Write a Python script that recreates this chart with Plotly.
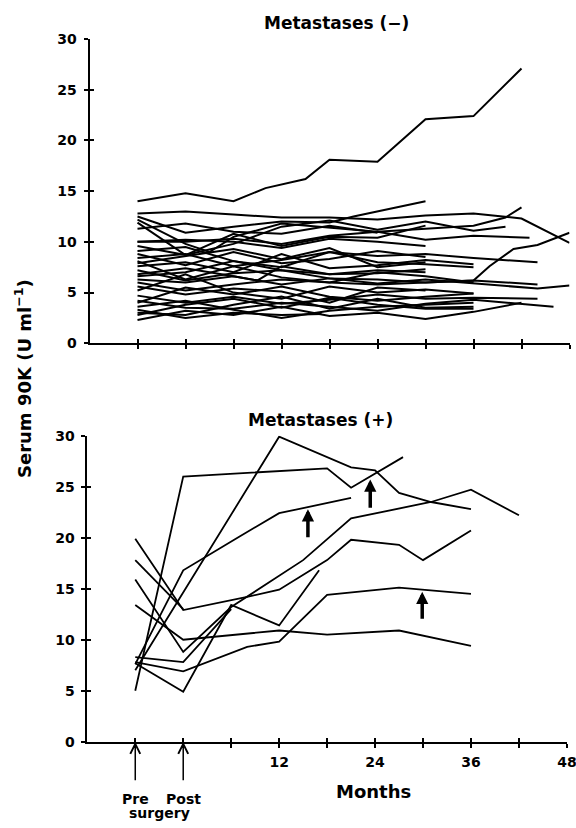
import plotly.graph_objects as go

FONT = "DejaVu Sans"

# ---------------- Metastases (-) panel: months and serum 90K values ----------------
neg01_m = [-6, 0, 6, 10, 15, 18, 24, 30, 36, 42]
neg01_v = [14.0, 14.8, 14.0, 15.3, 16.2, 18.1, 17.9, 22.1, 22.4, 27.1]
neg02_m = [-6, 0, 6, 12, 18, 24, 30, 36, 42, 48]
neg02_v = [12.8, 13.0, 12.7, 12.4, 12.4, 12.2, 12.6, 12.8, 12.3, 9.9]
neg03_m = [-6, 0, 6, 12, 18, 21, 30]
neg03_v = [12.5, 10.9, 11.5, 12.0, 11.9, 12.5, 14.0]
neg04_m = [-6, 0, 3, 6, 12, 18, 24, 36, 40, 42]
neg04_v = [12.2, 9.8, 9.0, 10.5, 11.8, 11.4, 11.0, 11.6, 12.4, 13.4]
neg05_m = [-6, 0, 6, 12, 18, 24, 30, 36, 38, 41, 44, 48]
neg05_v = [6.0, 5.2, 5.8, 6.3, 6.0, 5.8, 6.0, 6.2, 7.6, 9.3, 9.7, 10.9]
neg06_m = [-6, 0, 6, 12, 18, 24, 30, 36, 43]
neg06_v = [10.0, 10.0, 10.3, 9.8, 10.6, 11.0, 10.2, 10.6, 10.4]
neg07_m = [-6, 0, 6, 12, 18, 24, 30, 36, 40]
neg07_v = [11.9, 8.7, 9.8, 11.5, 12.1, 11.2, 12.0, 11.1, 11.5]
neg08_m = [-6, 0, 6, 12, 18, 24, 30, 36, 44]
neg08_v = [8.4, 8.8, 7.6, 8.2, 9.0, 8.6, 8.8, 8.4, 8.0]
neg09_m = [-6, 0, 6, 12, 18, 24, 30, 36]
neg09_v = [9.1, 9.5, 8.1, 7.5, 9.0, 8.0, 7.8, 7.5]
neg10_m = [-6, 0, 6, 12, 18, 24, 30, 36, 44]
neg10_v = [6.3, 6.0, 6.6, 5.8, 6.4, 6.3, 6.0, 6.2, 5.8]
neg11_m = [-6, 0, 6, 12, 18, 24, 30, 36, 44, 48]
neg11_v = [7.2, 6.2, 6.9, 7.2, 6.4, 5.9, 6.3, 5.9, 5.4, 5.7]
neg12_m = [-6, 0, 6, 12, 18, 24, 30, 36, 44]
neg12_v = [4.7, 4.0, 4.6, 3.9, 4.3, 4.8, 4.4, 4.5, 4.4]
neg13_m = [-6, 0, 6, 12, 18, 24, 30, 36, 46]
neg13_v = [4.2, 3.5, 3.4, 4.0, 3.6, 3.2, 3.9, 4.3, 3.6]
neg14_m = [-6, 0, 6, 12, 18, 24, 30, 36, 42]
neg14_v = [2.3, 3.2, 2.8, 3.6, 2.7, 3.0, 2.4, 3.1, 4.0]
neg15_m = [-6, 0, 6, 12, 17]
neg15_v = [3.3, 2.5, 3.0, 2.8, 2.9]
neg16_m = [-6, 0, 6, 12, 18, 24, 30, 36]
neg16_v = [5.2, 6.8, 5.0, 4.4, 5.6, 5.0, 5.3, 4.9]
neg17_m = [-6, 0, 6, 12, 18, 24, 30, 36]
neg17_v = [8.1, 6.3, 7.6, 6.5, 6.0, 7.0, 6.6, 6.0]
neg18_m = [-6, 0, 6, 12, 18, 24, 30, 36]
neg18_v = [7.6, 8.0, 7.0, 8.8, 7.4, 7.7, 8.2, 7.8]
neg19_m = [-6, 0, 6, 12, 18, 24, 30]
neg19_v = [10.0, 10.2, 10.0, 9.4, 10.3, 10.0, 9.6]
neg20_m = [-6, 0, 6, 12, 18, 24, 30]
neg20_v = [9.6, 8.7, 10.8, 9.6, 10.5, 10.4, 11.6]
neg21_m = [-6, 0, 6, 12, 18, 24, 30]
neg21_v = [5.6, 4.8, 5.4, 5.1, 4.0, 5.5, 5.2]
neg22_m = [-6, 0, 6, 12, 18, 24, 30, 36]
neg22_v = [3.6, 4.2, 3.3, 2.5, 3.2, 3.6, 3.8, 4.0]
neg23_m = [-6, 0, 6, 12, 18, 24, 30, 36]
neg23_v = [2.8, 3.8, 4.4, 3.5, 4.5, 3.8, 3.4, 3.4]
neg24_m = [-6, 0, 6, 9, 12, 18, 24, 30]
neg24_v = [6.8, 7.4, 6.6, 6.2, 7.6, 6.8, 6.9, 7.3]
neg25_m = [-6, 0, 6, 12, 18, 24, 30, 36]
neg25_v = [4.0, 5.5, 4.8, 5.6, 4.6, 4.2, 4.6, 4.9]
neg26_m = [-6, 0, 6, 12, 18, 24, 30]
neg26_v = [8.8, 7.7, 9.0, 7.9, 8.3, 9.1, 8.5]
neg27_m = [-6, 0, 6, 12, 18, 24, 30]
neg27_v = [6.6, 7.0, 8.1, 7.2, 6.8, 7.2, 7.0]
neg28_m = [-6, 0, 6, 12, 18, 24, 30, 36]
neg28_v = [3.0, 2.8, 3.8, 4.6, 3.4, 4.4, 3.5, 3.6]
neg29_m = [-6, 0, 6, 12, 18, 24]
neg29_v = [11.3, 11.8, 11.0, 10.8, 11.6, 10.9]
neg30_m = [-6, 0, 6, 12, 18, 24, 30]
neg30_v = [7.9, 8.6, 9.3, 8.3, 9.4, 7.5, 8.0]

# ---------------- Metastases (+) panel ----------------
posA_m = [-6, 0, 18, 21, 27.5]
posA_v = [5.0, 26.0, 26.8, 24.9, 27.9]
posB_m = [-6, 12, 21, 24, 27, 31, 36]
posB_v = [7.0, 29.9, 26.9, 26.6, 24.4, 23.5, 22.8]
posC_m = [-6, 0, 6, 12, 17]
posC_v = [7.7, 4.9, 13.4, 11.4, 16.8]
posD_m = [-6, 0, 12, 18, 27, 36]
posD_v = [13.4, 10.0, 10.9, 10.5, 10.9, 9.4]
posE_m = [-6, 0, 8, 12, 18, 27, 36]
posE_v = [7.8, 6.9, 9.3, 9.8, 14.4, 15.1, 14.5]
posF_m = [-6, 0, 8, 12, 18, 21, 27, 30, 36]
posF_v = [19.9, 12.9, 14.2, 14.9, 17.8, 19.8, 19.3, 17.8, 20.7]
posG_m = [-6, 0, 7, 12, 21]
posG_v = [7.6, 16.8, 20.1, 22.4, 23.9]
posH_m = [-6, 0, 6, 15, 21, 31, 36, 42]
posH_v = [15.9, 8.8, 13.2, 17.8, 21.9, 23.5, 24.7, 22.2]
posK_m = [-6, 0, 6]
posK_v = [8.3, 7.8, 13.0]
posL_m = [-6, 0]
posL_v = [17.8, 13.0]

# thick arrows (month, arrow tip value, arrow tail value)
arrow_months = [15.6, 23.4, 29.9]
arrow_tips = [22.8, 25.7, 14.7]
arrow_tails = [19.9, 22.8, 11.9]

# axis ticks
x_tickvals = [-6, 0, 6, 12, 18, 24, 30, 36, 42, 48]
x_ticktext = ["", "", "", "12", "", "24", "", "36", "", "48"]
y_tickvals = [0, 5, 10, 15, 20, 25, 30]
x_range = [-12, 48]
y_range = [0, 30]

neg_series = [
    (neg01_m, neg01_v), (neg02_m, neg02_v), (neg03_m, neg03_v), (neg04_m, neg04_v),
    (neg05_m, neg05_v), (neg06_m, neg06_v), (neg07_m, neg07_v), (neg08_m, neg08_v),
    (neg09_m, neg09_v), (neg10_m, neg10_v), (neg11_m, neg11_v), (neg12_m, neg12_v),
    (neg13_m, neg13_v), (neg14_m, neg14_v), (neg15_m, neg15_v), (neg16_m, neg16_v),
    (neg17_m, neg17_v), (neg18_m, neg18_v), (neg19_m, neg19_v), (neg20_m, neg20_v),
    (neg21_m, neg21_v), (neg22_m, neg22_v), (neg23_m, neg23_v), (neg24_m, neg24_v),
    (neg25_m, neg25_v), (neg26_m, neg26_v), (neg27_m, neg27_v), (neg28_m, neg28_v),
    (neg29_m, neg29_v), (neg30_m, neg30_v),
]
pos_series = [
    (posA_m, posA_v), (posB_m, posB_v), (posC_m, posC_v), (posD_m, posD_v),
    (posE_m, posE_v), (posF_m, posF_v), (posG_m, posG_v), (posH_m, posH_v),
    (posK_m, posK_v), (posL_m, posL_v),
]

W, H = 576, 828


def fx(px):
    return px / W


def fy(py):
    return 1 - py / H


fig = go.Figure()

for m, v in neg_series:
    fig.add_trace(go.Scatter(x=m, y=v, mode="lines", xaxis="x", yaxis="y",
                             line=dict(color="black", width=2.0), showlegend=False,
                             hoverinfo="skip"))
for m, v in pos_series:
    fig.add_trace(go.Scatter(x=m, y=v, mode="lines", xaxis="x2", yaxis="y2",
                             line=dict(color="black", width=1.8), showlegend=False,
                             hoverinfo="skip"))
# empty traces to host overlay axes (inside tick halves)
fig.add_trace(go.Scatter(x=[], y=[], xaxis="x3", yaxis="y3", showlegend=False))
fig.add_trace(go.Scatter(x=[], y=[], xaxis="x4", yaxis="y4", showlegend=False))

top_xdom = [fx(89.5), fx(569.5)]
bot_xdom = [fx(87.3), fx(566.9)]
top_ydom = [fy(343.3), fy(39.0)]
bot_ydom = [fy(741.7), fy(435.7)]

tickfont = dict(family=FONT, size=14, color="black", weight="bold")


def xax(dom, anchor, labels, ticks, overlay=None):
    d = dict(domain=dom, range=x_range, anchor=anchor, tickvals=x_tickvals,
             ticktext=x_ticktext, showticklabels=labels, ticks=ticks, ticklen=4,
             tickwidth=1.6, tickcolor="black", showgrid=False, zeroline=False,
             showline=(overlay is None), linecolor="black", linewidth=1.7,
             tickfont=tickfont, fixedrange=True, ticklabelstandoff=3,
             automargin=False, ticklabeloverflow="allow")
    if overlay:
        d["overlaying"] = overlay
    return d


def yax(dom, anchor, labels, ticks, overlay=None):
    d = dict(domain=dom, range=y_range, anchor=anchor, tickvals=y_tickvals,
             showticklabels=labels, ticks=ticks, ticklen=4, tickwidth=1.6,
             tickcolor="black", showgrid=False, zeroline=False,
             showline=(overlay is None), linecolor="black", linewidth=1.7,
             tickfont=tickfont, fixedrange=True, ticklabelstandoff=4,
             automargin=False, ticklabeloverflow="allow")
    if overlay:
        d["overlaying"] = overlay
    return d


fig.update_layout(
    width=W, height=H,
    margin=dict(l=0, r=0, t=0, b=0, pad=0, autoexpand=False),
    paper_bgcolor="white", plot_bgcolor="white",
    font=dict(family=FONT, color="black"),
    xaxis=xax(top_xdom, "y", False, "outside"),
    yaxis=yax(top_ydom, "x", True, "outside"),
    xaxis2=xax(bot_xdom, "y2", True, "outside"),
    yaxis2=yax(bot_ydom, "x2", True, "outside"),
    xaxis3=xax(top_xdom, "y3", False, "inside", overlay="x"),
    yaxis3=yax(top_ydom, "x3", False, "inside", overlay="y"),
    xaxis4=xax(bot_xdom, "y4", False, "inside", overlay="x2"),
    yaxis4=yax(bot_ydom, "x4", False, "inside", overlay="y2"),
)

bold = "bold"
ann = []
ann.append(dict(text="Metastases (−)", xref="paper", yref="paper", x=fx(336),
                y=fy(23), showarrow=False, xanchor="center", yanchor="middle",
                font=dict(family=FONT, size=17, weight=bold)))
ann.append(dict(text="Metastases (+)", xref="paper", yref="paper", x=fx(320),
                y=fy(420), showarrow=False, xanchor="center", yanchor="middle",
                font=dict(family=FONT, size=17, weight=bold)))
ann.append(dict(text="Serum 90K (U ml<sup>−1</sup>)", xref="paper", yref="paper",
                x=fx(23), y=fy(379), textangle=-90, showarrow=False,
                xanchor="center", yanchor="middle",
                font=dict(family=FONT, size=18, weight=bold)))
ann.append(dict(text="Months", xref="paper", yref="paper", x=fx(373), y=fy(791),
                showarrow=False, xanchor="center", yanchor="middle",
                font=dict(family=FONT, size=18, weight=bold)))
ann.append(dict(text="Pre", xref="x2", yref="paper", x=-6, y=fy(799),
                showarrow=False, xanchor="center", yanchor="middle",
                font=dict(family=FONT, size=14, weight=bold)))
ann.append(dict(text="Post", xref="x2", yref="paper", x=0, y=fy(799),
                showarrow=False, xanchor="center", yanchor="middle",
                font=dict(family=FONT, size=14, weight=bold)))
ann.append(dict(text="surgery", xref="x2", yref="paper", x=-3, y=fy(813),
                showarrow=False, xanchor="center", yanchor="middle",
                font=dict(family=FONT, size=14, weight=bold)))
for xm in [-6, 0]:
    ann.append(dict(text="", xref="x2", yref="y2", x=xm, y=0, showarrow=True,
                    ax=0, ay=40, arrowhead=5, arrowsize=1.3, arrowwidth=1.5,
                    arrowcolor="black"))
for xm, tip, tail in zip(arrow_months, arrow_tips, arrow_tails):
    ann.append(dict(text="", xref="x2", yref="y2", x=xm, y=tip, axref="x2", ayref="y2",
                    ax=xm, ay=tail, showarrow=True, arrowhead=2, arrowsize=0.7,
                    arrowwidth=3.5, arrowcolor="black"))
fig.update_layout(annotations=ann)

# remove the browser's default body margin so the 576x828 figure fills the window
fig.write_html("out.html",
               config={"displayModeBar": False},
               post_script="document.body.style.margin='0px';"
                           "document.body.style.overflow='hidden';")
